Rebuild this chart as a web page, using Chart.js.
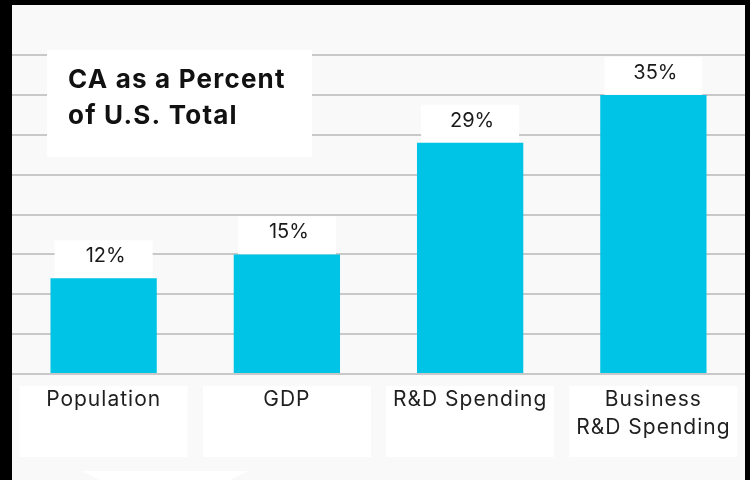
<!DOCTYPE html>
<html>
<head>
<meta charset="utf-8">
<script src="https://cdn.jsdelivr.net/npm/chart.js@4/dist/chart.umd.min.js"></script>
<style>
  html, body { margin: 0; padding: 0; background: #000; }
  #wrap { width: 750px; height: 480px; }
</style>
</head>
<body>
<div id="wrap"><canvas id="c" width="750" height="480"></canvas></div>
<script>
// Share of the U.S. total held by California
const categories = ['Population', 'GDP', 'R&D Spending', ['Business', 'R&D Spending']];
const shares = [12, 15, 29, 35];
const titleLines = ['CA as a Percent', 'of U.S. Total'];
const axisMax = 40;
const axisStep = 5;

const FONT = 'Inter, "Open Sans", sans-serif';
const BAR_COLOR = '#00c4e6';

// Frame, panel and white callout boxes behind texts
const decor = {
  id: 'decor',
  beforeDraw(chart) {
    const ctx = chart.ctx;
    ctx.save();
    ctx.fillStyle = '#000';
    ctx.fillRect(0, 0, chart.width, chart.height);
    ctx.fillStyle = '#f9f9f9';
    ctx.fillRect(12, 5, 733, 475);
    // small pointer shape at the foot of the panel
    ctx.fillStyle = '#ffffff';
    ctx.beginPath();
    ctx.moveTo(81, 471);
    ctx.lineTo(248, 471);
    ctx.lineTo(230, 480);
    ctx.lineTo(100, 480);
    ctx.closePath();
    ctx.fill();
    ctx.restore();
  },
  beforeDatasetsDraw(chart) {
    const ctx = chart.ctx;
    const meta = chart.getDatasetMeta(0);
    const xs = chart.scales.x;
    const ys = chart.scales.y;
    ctx.save();
    ctx.fillStyle = '#ffffff';
    // title card
    ctx.fillRect(47, 50, 265, 107);
    // value cards sitting on the bars
    meta.data.forEach((bar) => {
      ctx.fillRect(bar.x - 49, bar.y - 38, 98, 38);
    });
    // category cards under the baseline
    categories.forEach((c, i) => {
      const cx = xs.getPixelForValue(i);
      ctx.fillRect(cx - 84, ys.bottom + 12, 168, 71);
    });
    ctx.restore();
  },
  afterDraw(chart) {
    const ctx = chart.ctx;
    const meta = chart.getDatasetMeta(0);
    const xs = chart.scales.x;
    const ys = chart.scales.y;
    ctx.save();
    // title
    ctx.fillStyle = '#111111';
    ctx.font = 'bold 26px ' + FONT;
    ctx.letterSpacing = '1.2px';
    ctx.textAlign = 'left';
    ctx.textBaseline = 'alphabetic';
    titleLines.forEach((t, i) => ctx.fillText(t, 68, 88 + i * 36));
    // value labels
    ctx.fillStyle = '#1a1a1a';
    ctx.font = '20px ' + FONT;
    ctx.letterSpacing = '0px';
    ctx.textAlign = 'center';
    ctx.textBaseline = 'middle';
    meta.data.forEach((bar, i) => {
      ctx.fillText(shares[i] + '%', bar.x + 2, bar.y - 22);
    });
    // category labels
    ctx.fillStyle = '#1f1f1f';
    ctx.font = '21px ' + FONT;
    ctx.letterSpacing = '1px';
    categories.forEach((c, i) => {
      const lines = Array.isArray(c) ? c : [c];
      const cx = xs.getPixelForValue(i);
      lines.forEach((l, j) => ctx.fillText(l, cx, ys.bottom + 26 + j * 28));
    });
    ctx.restore();
  }
};

new Chart(document.getElementById('c'), {
  type: 'bar',
  data: {
    labels: categories,
    datasets: [{
      data: shares,
      backgroundColor: BAR_COLOR,
      borderWidth: 0,
      barPercentage: 0.58,
      categoryPercentage: 1.0
    }]
  },
  options: {
    responsive: false,
    animation: false,
    devicePixelRatio: 1,
    layout: { padding: { left: 12, right: 5, top: 55, bottom: 106 } },
    plugins: {
      legend: { display: false },
      tooltip: { enabled: false },
      title: { display: false }
    },
    scales: {
      x: {
        display: false,
        grid: { display: false }
      },
      y: {
        min: 0,
        max: axisMax,
        ticks: { display: false, stepSize: axisStep },
        border: { display: false },
        grid: { color: '#c8c8c8', lineWidth: 2, drawTicks: false }
      }
    }
  },
  plugins: [decor]
});
</script>
</body>
</html>
